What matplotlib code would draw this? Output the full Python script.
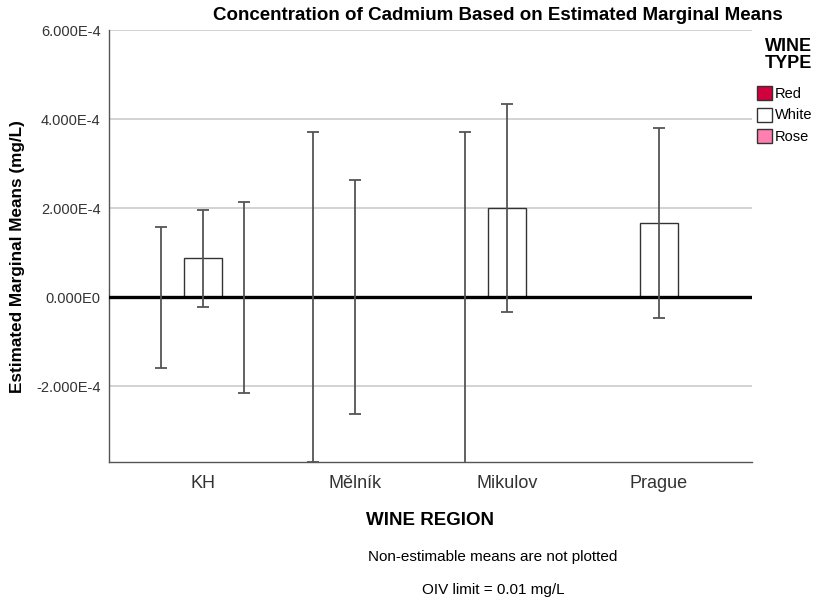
import numpy as np
import matplotlib
matplotlib.use("Agg")
import matplotlib.pyplot as plt
from matplotlib.patches import Patch

plt.rcParams['font.family'] = ['Liberation Sans', 'DejaVu Sans']

# Estimated marginal means of cadmium (mg/L) with 95% CI half-widths
regions = ["KH", "Mělník", "Mikulov", "Prague"]
wine_types = ["Red", "White", "Rose"]
type_colors = ["#d2003c", "#ffffff", "#ff80b0"]

means = {
    "Red":   [0.0, 0.0, 0.0, np.nan],
    "White": [0.87e-4, 0.0, 2.00e-4, 1.67e-4],
    "Rose":  [0.0, np.nan, np.nan, np.nan],
}
ci_half = {
    "Red":   [1.58e-4, 3.70e-4, 3.72e-4, np.nan],
    "White": [1.095e-4, 2.63e-4, 2.34e-4, 2.14e-4],
    "Rose":  [2.14e-4, np.nan, np.nan, np.nan],
}
y_ticks = [-2e-4, 0.0, 2e-4, 4e-4, 6e-4]
y_tick_labels = ["-2.000E-4", "0.000E0", "2.000E-4", "4.000E-4", "6.000E-4"]

fig = plt.figure(figsize=(8.14, 6.01), dpi=100)
ax = fig.add_axes([109 / 814, 1 - 462 / 601, (752 - 109) / 814, (462 - 30) / 601])

x = np.arange(len(regions))
offset = 0.273
width = 0.245

# gridlines behind everything
for t in y_ticks:
    if t != 0:
        ax.axhline(t, color="#cccccc", lw=1.2, zorder=0)

for i, wt in enumerate(wine_types):
    xpos = x + (i - 1) * offset
    m = np.array(means[wt])
    e = np.array(ci_half[wt])
    ax.bar(xpos, m, width=width, color=type_colors[i], edgecolor="#333333",
           linewidth=1.0, zorder=2)
    ax.errorbar(xpos, m, yerr=e, fmt="none", ecolor="#555555", elinewidth=1.3,
                capsize=4, capthick=1.3, zorder=4, clip_on=True)

ax.axhline(0, color="black", lw=2.4, zorder=3)

ax.set_xlim(-0.618, 3.612)
ax.set_ylim(-3.70e-4, 6.0e-4)
ax.set_yticks(y_ticks)
ax.set_yticklabels(y_tick_labels, fontsize=10.5, color="#333333")
ax.set_xticks(x)
ax.set_xticklabels(regions, fontsize=13, color="#333333")
ax.tick_params(axis="both", length=0)
ax.tick_params(axis="y", pad=6)
ax.tick_params(axis="x", pad=9)

for s in ["top", "right"]:
    ax.spines[s].set_visible(False)
for s in ["left", "bottom"]:
    ax.spines[s].set_color("#555555")
    ax.spines[s].set_linewidth(1.0)

ax.set_xlabel("WINE REGION", fontsize=13.5, fontweight="bold", labelpad=15)
fig.text(18 / 814, 1 - 257 / 601, "Estimated Marginal Means (mg/L)", rotation=90,
         fontsize=12.3, fontweight="bold", ha="center", va="center")

fig.text(498 / 814, 1 - 15 / 601, "Concentration of Cadmium Based on Estimated Marginal Means",
         fontsize=13.5, fontweight="bold", ha="center", va="center")

fig.text(493 / 814, 1 - 557 / 601, "Non-estimable means are not plotted",
         fontsize=11, ha="center", va="center")
fig.text(493 / 814, 1 - 590 / 601, "OIV limit = 0.01 mg/L",
         fontsize=11, ha="center", va="center")

# legend
fig.text(812 / 814, 1 - 55 / 601, "WINE\nTYPE", fontsize=13, fontweight="bold",
         ha="right", va="center", linespacing=0.95)
handles = [Patch(facecolor=c, edgecolor="#333333", linewidth=1.0) for c in type_colors]
fig.legend(handles, wine_types, loc="upper left", bbox_to_anchor=(757 / 814, 1 - 86 / 601),
           frameon=False, fontsize=10.5, handlelength=1.0, handleheight=1.1,
           handletextpad=0.2, labelspacing=0.45, borderpad=0, borderaxespad=0)

fig.savefig("out.png", dpi=100)
